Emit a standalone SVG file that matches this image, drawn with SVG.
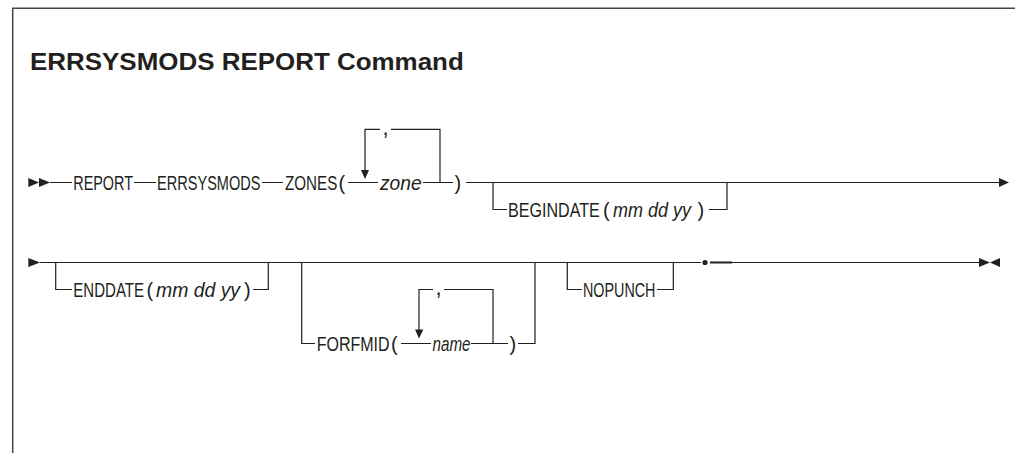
<svg xmlns="http://www.w3.org/2000/svg" width="1015" height="453" viewBox="0 0 1015 453">
<style>
.t{font-family:"Liberation Sans",Arial,sans-serif;font-size:20px;fill:#231f20}
.i{font-style:italic}
.ttl{font-family:"Liberation Sans",Arial,sans-serif;font-size:24px;font-weight:bold;fill:#231f20}
.ln{fill:none;stroke:#231f20;stroke-width:1.2}
.ar{fill:#231f20}
.frame{fill:none;stroke:#444;stroke-width:1.5}
</style>
<rect width="1015" height="453" fill="#fff"/>
<path class="frame" d="M12.7,453 V8.3 H1015"/>
<text class="ttl" transform="translate(30,70) scale(1.081,1)">ERRSYSMODS REPORT Command</text>

<g id="connectors">
  <!-- row 1 -->
  <polygon class="ar" points="28.3,178 39,182.5 28.3,187"/>
  <polygon class="ar" points="39,178 50,182.5 39,187"/>
  <path class="ln" d="M50,182.5 H72 M134,182.5 H156 M262,182.5 H283 M348,182.5 H378 M423,182.5 H453 M466,182.5 H999"/>
  <path class="ln" d="M365,171 V129.3 H380 M391,129.3 H440 V182.5"/>
  <polygon class="ar" points="361,170 369,170 365,179"/>
  <path class="ln" d="M493,182.5 V209.5 H507 M709,209.5 H727 V182.5"/>
  <polygon class="ar" points="999,178 1009,182.5 999,187"/>
  <!-- row 2 -->
  <polygon class="ar" points="28.3,258 40,262.5 28.3,267"/>
  <path class="ln" d="M40,262.5 H701"/>
  <circle class="ar" cx="705" cy="262.5" r="2.6"/>
  <path fill="none" stroke="#231f20" stroke-width="2" d="M710,262.5 H732"/>
  <path class="ln" d="M732,262.5 H979"/>
  <polygon class="ar" points="979,258 990,262.5 979,267"/>
  <polygon class="ar" points="1000,258 990,262.5 1000,267"/>
  <path class="ln" d="M55.7,262.5 V289.5 H72 M253,289.5 H268.3 V262.5"/>
  <path class="ln" d="M301.7,262.5 V343.5 H315 M401,343.5 H431 M471,343.5 H508 M518,343.5 H535 V262.5"/>
  <path class="ln" d="M419,331 V289.5 H433 M444,289.5 H493 V343.5"/>
  <polygon class="ar" points="415,329.5 423.3,329.5 419,338.5"/>
  <path class="ln" d="M567.3,262.5 V289.5 H582 M657,289.5 H673.3 V262.5"/>
</g>

<g id="report"><text class="t" transform="translate(73.3,189.5) scale(0.72,1)">REPORT</text></g>
<g id="errsysmods"><text class="t" transform="translate(157,189.5) scale(0.728,1)">ERRSYSMODS</text></g>
<g id="zones">
  <text class="t" transform="translate(285,189.5) scale(0.76,1)">ZONES</text>
  <text class="t" x="338.5" y="189.5">(</text>
</g>
<g id="zone"><text class="t i" transform="translate(380,189.5) scale(0.96,1)">zone</text></g>
<g id="zone-sep"><text class="t" x="382.5" y="135" style="font-size:22px">,</text></g>
<g id="zones-close"><text class="t" x="454.5" y="189.5">)</text></g>
<g id="begindate">
  <text class="t" transform="translate(508,216.5) scale(0.805,1)">BEGINDATE</text>
  <text class="t" x="603" y="216.5">(</text>
  <text class="t i" transform="translate(613,216.5) scale(0.9,1)">mm dd yy</text>
  <text class="t" x="697.5" y="216.5">)</text>
</g>
<g id="enddate">
  <text class="t" transform="translate(73.3,296.5) scale(0.753,1)">ENDDATE</text>
  <text class="t" x="146.5" y="296.5">(</text>
  <text class="t i" transform="translate(156,296.5) scale(0.97,1)">mm dd yy</text>
  <text class="t" x="244" y="296.5">)</text>
</g>
<g id="forfmid">
  <text class="t" transform="translate(316.7,350.5) scale(0.8,1)">FORFMID</text>
  <text class="t" x="391" y="350.5">(</text>
</g>
<g id="name"><text class="t i" transform="translate(432.5,350.5) scale(0.76,1)">name</text></g>
<g id="name-sep"><text class="t" x="435.5" y="295" style="font-size:22px">,</text></g>
<g id="forfmid-close"><text class="t" x="509.5" y="350.5">)</text></g>
<g id="nopunch"><text class="t" transform="translate(583,296.5) scale(0.717,1)">NOPUNCH</text></g>
</svg>
